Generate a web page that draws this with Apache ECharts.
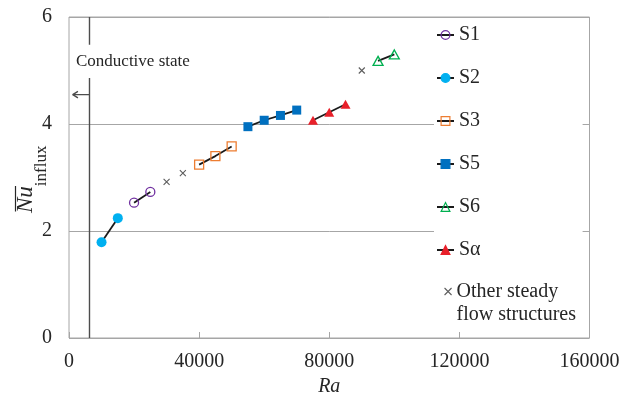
<!DOCTYPE html>
<html>
<head>
<meta charset="utf-8">
<script src="https://cdn.jsdelivr.net/npm/echarts@6/dist/echarts.min.js"></script>
<style>
  html, body { margin: 0; padding: 0; background: #fff; }
  #chart { width: 633px; height: 398px; }
</style>
</head>
<body>
<div id="chart"></div>
<script>
// Mean influx Nusselt number against Rayleigh number, one series per steady flow structure
const s1 = [[20000, 2.53], [25000, 2.73]];
const s2 = [[10000, 1.79], [15000, 2.24]];
const s3 = [[40000, 3.24], [45000, 3.40], [50000, 3.58]];
const s5 = [[55000, 3.95], [60000, 4.07], [65000, 4.16], [70000, 4.26]];
const s6 = [[95000, 5.18], [100000, 5.30]];
const sAlpha = [[75000, 4.07], [80000, 4.22], [85000, 4.37]];
const otherSteady = [[30000, 2.92], [35000, 3.08], [90000, 5.00]];

// Onset of convection: left of this Ra the layer stays conductive
const raCritical = 6300;
const onsetLower = [[raCritical, 0], [raCritical, 4.86]];
const onsetUpper = [[raCritical, 5.48], [raCritical, 6]];
const arrowShaft = [[raCritical, 4.55], [1150, 4.55]];
const arrowHead = [[2750, 4.61], [1150, 4.55], [2750, 4.49]];

const raTicks = [0, 40000, 80000, 120000, 160000];
const nuTicks = [0, 2, 4, 6];

const SERIF = '"Liberation Serif", "Times New Roman", serif';
const INK = '#262626';
const FRAME = '#a6a6a6';

function structure(name, data, symbol, color, hollow, size) {
  return {
    name: name,
    type: 'line',
    data: data,
    symbol: symbol,
    symbolSize: size,
    showSymbol: true,
    lineStyle: { color: '#1a1a1a', width: 1.8 },
    itemStyle: hollow
      ? { color: 'rgba(255,255,255,0)', borderColor: color, borderWidth: 1.3 }
      : { color: color, borderColor: color, borderWidth: 0 },
    emphasis: { disabled: true },
    z: 3
  };
}

function guide(data) {
  return {
    type: 'line',
    data: data,
    symbol: 'none',
    silent: true,
    lineStyle: { color: '#4d4d4d', width: 1.4 },
    emphasis: { disabled: true },
    z: 2
  };
}

const chart = echarts.init(document.getElementById('chart'), null, { renderer: 'canvas' });

chart.setOption({
  animation: false,
  backgroundColor: '#fff',
  grid: {
    left: 69, right: 43.5, top: 17, bottom: 60,
    outerBoundsMode: 'none',
    containLabel: false,
    show: true, borderColor: FRAME, borderWidth: 1
  },
  xAxis: {
    type: 'value',
    min: raTicks[0],
    max: raTicks[raTicks.length - 1],
    interval: raTicks[1] - raTicks[0],
    name: 'Ra',
    nameLocation: 'middle',
    nameGap: 39,
    nameTextStyle: { fontFamily: SERIF, fontStyle: 'italic', fontSize: 20, color: INK },
    axisLine: { show: false },
    axisTick: { show: true, inside: true, length: 6, lineStyle: { color: FRAME } },
    splitLine: { show: false },
    axisLabel: { fontFamily: SERIF, fontSize: 20, color: INK, margin: 14, formatter: (v) => String(v) }
  },
  yAxis: {
    type: 'value',
    min: nuTicks[0],
    max: nuTicks[nuTicks.length - 1],
    interval: nuTicks[1] - nuTicks[0],
    axisLine: { show: false },
    axisTick: { show: false },
    splitLine: { show: true, lineStyle: { color: FRAME, width: 1 } },
    axisLabel: { fontFamily: SERIF, fontSize: 20, color: INK, margin: 17, formatter: (v) => String(v) }
  },
  legend: [
    {
      data: ['S1', 'S2', 'S3', 'S5', 'S6', 'Sα'],
      orient: 'vertical',
      left: 434, top: 20,
      itemWidth: 17, itemHeight: 11, itemGap: 23,
      padding: [5, 102, 5, 2],
      backgroundColor: '#fff',
      selectedMode: false,
      itemStyle: { borderWidth: 1.2 },
      textStyle: { fontFamily: SERIF, fontSize: 20, color: INK },
      z: 5
    },
    {
      // an empty leading line keeps the marker level with the first text line
      data: ['Other steady\nflow structures'],
      formatter: (name) => '\n' + name,
      orient: 'vertical',
      left: 436, top: 257,
      itemWidth: 7, itemHeight: 7,
      padding: [0, 5, 2, 8],
      backgroundColor: '#fff',
      selectedMode: false,
      itemStyle: { borderWidth: 1.1 },
      textStyle: { fontFamily: SERIF, fontSize: 20, color: INK, lineHeight: 23 },
      z: 4
    }
  ],
  graphic: [
    {
      type: 'text',
      x: 76, y: 62,
      silent: true,
      style: {
        text: 'Conductive state',
        font: '17px "Liberation Serif", serif',
        fill: INK,
        verticalAlign: 'middle'
      }
    },
    {
      type: 'group',
      x: 50, y: 213,
      rotation: Math.PI / 2,
      silent: true,
      children: [
        {
          type: 'text',
          style: {
            text: '{nu|Nu}{sub|influx}',
            align: 'left',
            verticalAlign: 'bottom',
            rich: {
              nu: { font: 'italic 23px "Liberation Serif", serif', fill: INK, padding: [0, 0, 13, 0], verticalAlign: 'bottom' },
              sub: { font: '17px "Liberation Serif", serif', fill: INK, verticalAlign: 'bottom' }
            }
          }
        },
        {
          type: 'line',
          shape: { x1: 1.5, y1: -34.5, x2: 27, y2: -34.5 },
          style: { stroke: INK, lineWidth: 1.2 }
        }
      ]
    }
  ],
  series: [
    structure('S1', s1, 'circle', '#7030a0', true, 9),
    structure('S2', s2, 'circle', '#00b0f0', false, 10),
    structure('S3', s3, 'rect', '#ed7d31', true, 9),
    structure('S5', s5, 'rect', '#0070c0', false, 9),
    structure('S6', s6, 'triangle', '#00b050', true, [10, 9]),
    structure('Sα', sAlpha, 'triangle', '#e8202a', false, [10, 9]),
    {
      name: 'Other steady\nflow structures',
      type: 'scatter',
      data: otherSteady,
      symbol: 'path://M0,0L10,10M10,0L0,10',
      symbolSize: 6,
      itemStyle: { color: 'rgba(0,0,0,0)', borderColor: '#333', borderWidth: 1.1 },
      emphasis: { disabled: true },
      z: 3
    },
    guide(onsetLower),
    guide(onsetUpper),
    guide(arrowShaft),
    guide(arrowHead)
  ]
});
</script>
</body>
</html>
